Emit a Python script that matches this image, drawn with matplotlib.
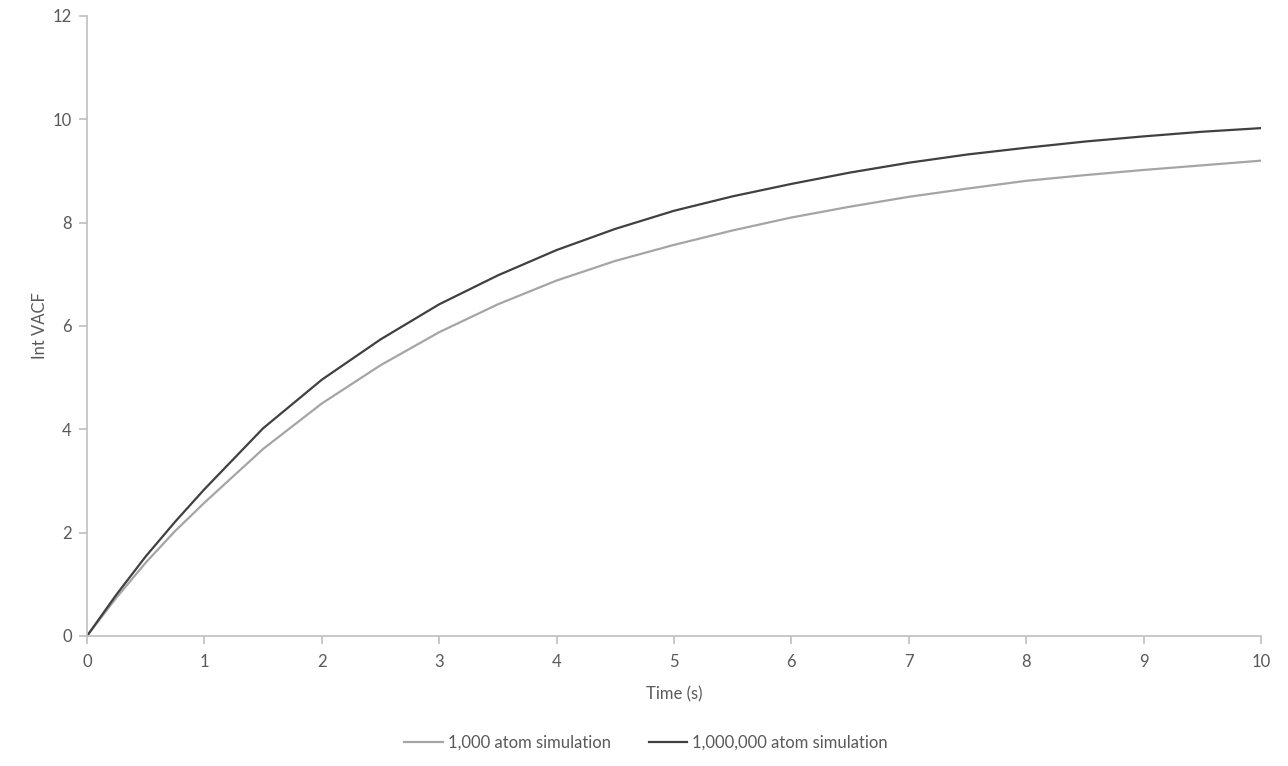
import matplotlib
matplotlib.use("Agg")
import matplotlib.pyplot as plt

time_s = [0, 0.25, 0.5, 0.75, 1, 1.5, 2, 2.5, 3, 3.5, 4, 4.5, 5, 5.5, 6, 6.5, 7, 7.5, 8, 8.5, 9, 9.5, 10]
vacf_1k = [0, 0.74, 1.42, 2.03, 2.58, 3.62, 4.50, 5.24, 5.88, 6.42, 6.88, 7.26, 7.57, 7.85, 8.10, 8.31, 8.50, 8.66, 8.81, 8.92, 9.02, 9.11, 9.20]
vacf_1m = [0, 0.80, 1.54, 2.21, 2.84, 4.02, 4.96, 5.74, 6.42, 6.98, 7.47, 7.88, 8.23, 8.51, 8.75, 8.97, 9.16, 9.32, 9.45, 9.57, 9.67, 9.76, 9.83]
series_labels = ["1,000 atom simulation", "1,000,000 atom simulation"]
x_ticks = list(range(0, 11))
y_ticks = [0, 2, 4, 6, 8, 10, 12]

plt.rcParams['font.family'] = ['Lato', 'DejaVu Sans']
txt = '#595959'
axc = '#BFBFBF'

fig = plt.figure(figsize=(12.88, 7.66), dpi=100)
ax = fig.add_axes([87/1288, 1-636/766, (1261-87)/1288, (636-16)/766])
ax.plot(time_s, vacf_1k, color='#A5A5A5', lw=1.6, label=series_labels[0])
ax.plot(time_s, vacf_1m, color='#404040', lw=1.6, label=series_labels[1])
ax.set_xlim(0, 10)
ax.set_ylim(0, 12)
ax.set_xticks(x_ticks)
ax.set_yticks(y_ticks)
for s in ['top', 'right']:
    ax.spines[s].set_visible(False)
for s in ['left', 'bottom']:
    ax.spines[s].set_color(axc)
    ax.spines[s].set_linewidth(1.2)
ax.tick_params(axis='both', colors=axc, labelcolor=txt, labelsize=12, length=6, width=1.2, direction='out')
ax.tick_params(axis='x', pad=7)
ax.tick_params(axis='y', pad=5)
ax.set_xlabel('Time (s)', color=txt, fontsize=12, labelpad=12)
ax.set_ylabel('Int VACF', color=txt, fontsize=12, labelpad=3)
leg = fig.legend(loc='center', bbox_to_anchor=(646/1288, 1-743/766), ncol=2, frameon=False,
                 fontsize=12, labelcolor=txt, handlelength=2.3, handletextpad=0.3, columnspacing=2.3)
fig.savefig('out.png', dpi=100)
